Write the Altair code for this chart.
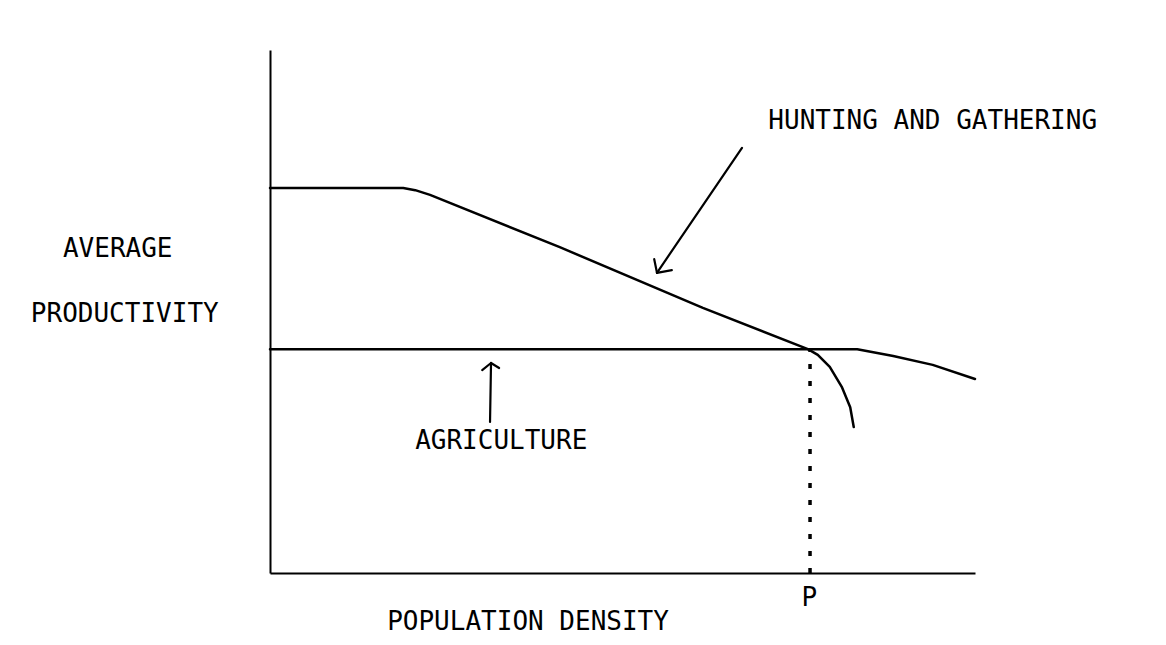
import altair as alt
import pandas as pd

# Hunting and gathering curve (x: population density, y: average productivity)
hunt_x = [0, 18.9, 20.6, 22.7, 41.1, 61.4, 76.3, 77.7, 79.4, 81.1, 82.3, 82.8]
hunt_y = [73.6, 73.6, 73.2, 72.3, 62.3, 50.7, 42.8, 41.7, 39.4, 35.6, 31.7, 27.9]

# Agriculture curve
agri_x = [0, 83.3, 88.4, 94.0, 100]
agri_y = [42.8, 42.8, 41.5, 39.8, 37.1]

# Density P where the curves cross
p_x = [76.6]
p_y_top = [42.8]
p_y_bottom = [0]

# Pointer arrows (shaft + two head strokes each)
arrow_x1 = [66.95, 54.89, 54.89, 31.21, 31.35, 31.35]
arrow_y1 = [81.3, 57.4, 57.4, 28.87, 40.15, 40.15]
arrow_x2 = [54.89, 54.5, 57.0, 31.35, 30.1, 32.5]
arrow_y2 = [57.4, 60.0, 57.9, 40.15, 38.8, 39.2]

# Text labels (positions are baselines)
label_text = ["HUNTING AND GATHERING", "AGRICULTURE", "P",
              "POPULATION DENSITY", "AVERAGE", "PRODUCTIVITY"]
label_x = [94.0, 32.8, 76.5, 36.6, -21.6, -20.6]
label_y = [84.8, 23.7, -6.4, -10.9, 60.4, 48.0]

hunt = pd.DataFrame({"x": hunt_x, "y": hunt_y, "i": range(len(hunt_x))})
agri = pd.DataFrame({"x": agri_x, "y": agri_y, "i": range(len(agri_x))})
pline = pd.DataFrame({"x": p_x, "y": p_y_bottom, "y2": p_y_top})
arrows = pd.DataFrame({"x": arrow_x1, "y": arrow_y1, "x2": arrow_x2, "y2": arrow_y2})
labels = pd.DataFrame({"text": label_text, "x": label_x, "y": label_y})

xs = alt.Scale(domain=[0, 100], nice=False, zero=False)
ys = alt.Scale(domain=[0, 100], nice=False, zero=False)
ax = alt.Axis(title=None, labels=False, ticks=False, grid=False, domain=True,
              domainColor="black", domainWidth=2)

X = alt.X("x:Q", scale=xs, axis=ax)
Y = alt.Y("y:Q", scale=ys, axis=ax)

hunt_line = alt.Chart(hunt).mark_line(color="black", strokeWidth=2.5, strokeCap="round",
                                      strokeJoin="round").encode(x=X, y=Y, order="i:Q")
agri_line = alt.Chart(agri).mark_line(color="black", strokeWidth=2.5, strokeCap="round",
                                      strokeJoin="round").encode(x=X, y=Y, order="i:Q")
p_rule = alt.Chart(pline).mark_rule(color="black", strokeWidth=3.5,
                                    strokeDash=[5, 12]).encode(x=X, y=Y, y2="y2:Q")
arrow_rules = alt.Chart(arrows).mark_rule(color="black", strokeWidth=2.2,
                                          strokeCap="round").encode(x=X, y=Y, x2="x2:Q", y2="y2:Q")
texts = alt.Chart(labels).mark_text(font="DejaVu Sans Mono", fontSize=26, color="black",
                                    align="center", baseline="alphabetic").encode(x=X, y=Y, text="text:N")

chart = alt.layer(hunt_line, agri_line, p_rule, arrow_rules, texts).properties(
    width=705,
    height=523,
    autosize=alt.AutoSizeParams(type="none"),
    padding={"left": 262, "top": 42, "right": 183, "bottom": 64},
    background="white",
).configure_view(stroke=None)

chart.save("out.html", embed_options={"renderer": "svg", "actions": False})
